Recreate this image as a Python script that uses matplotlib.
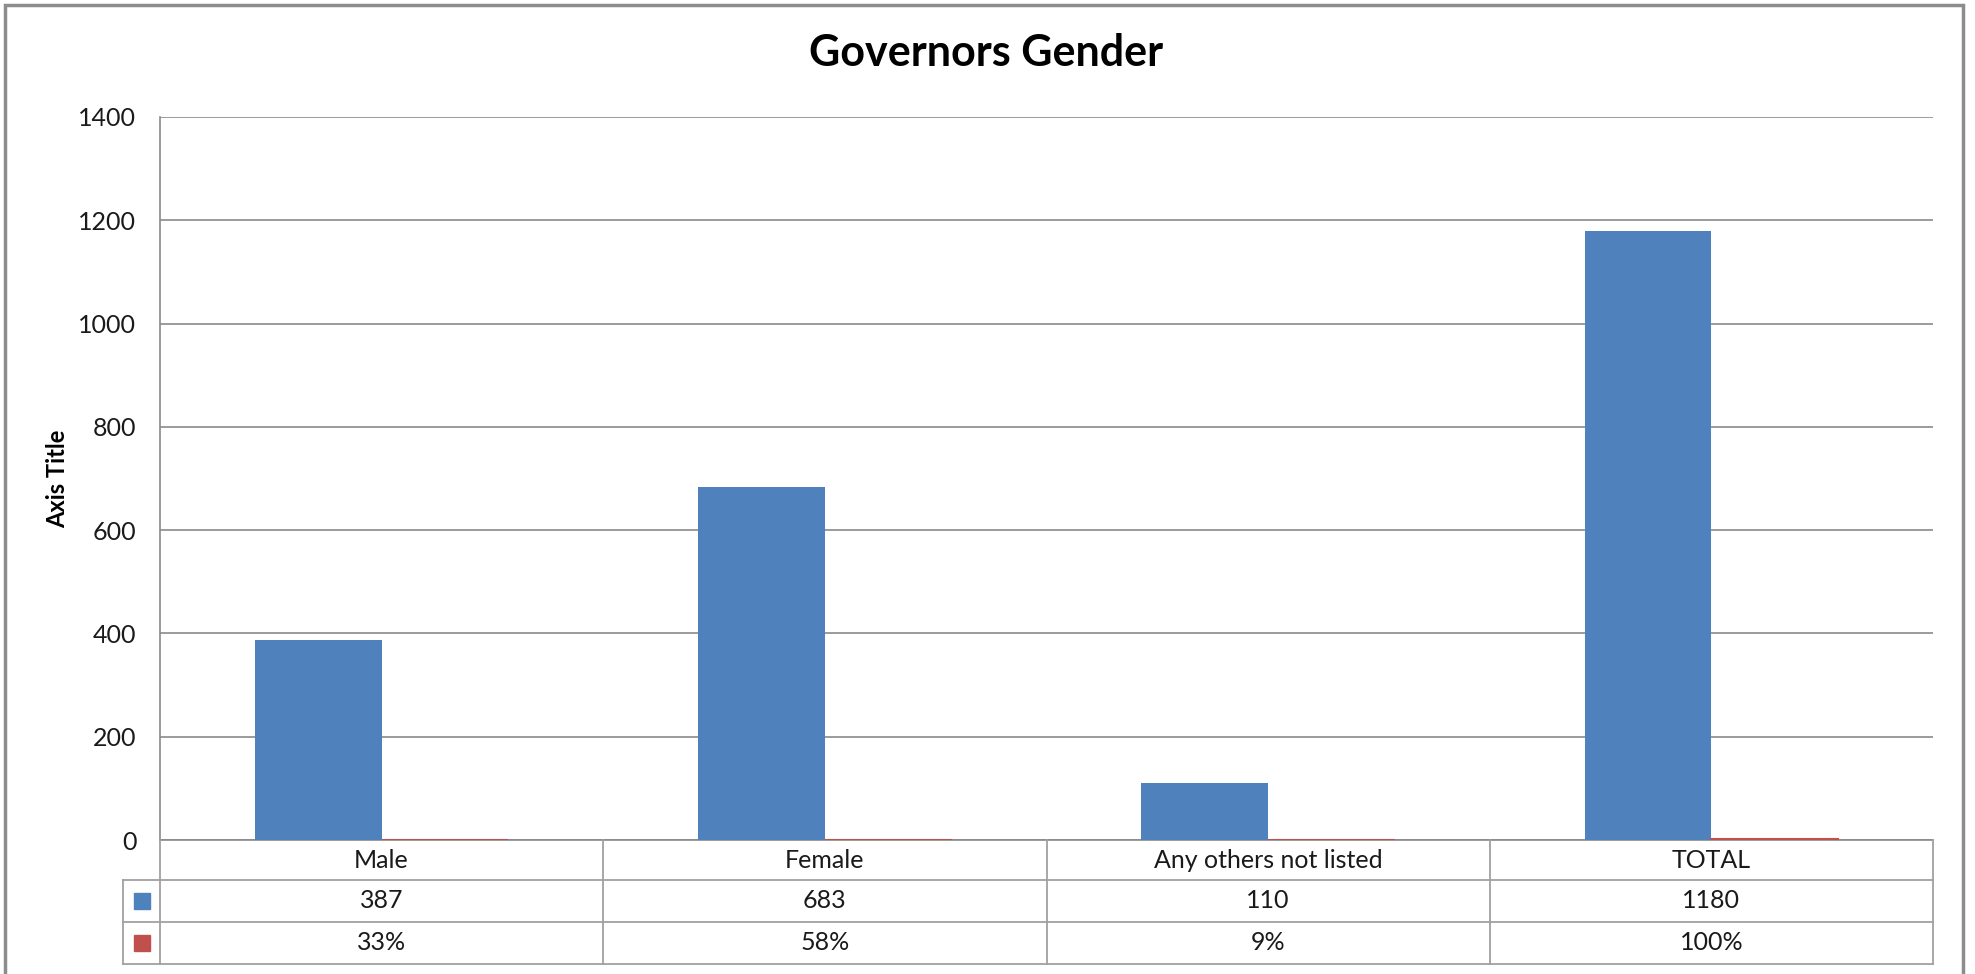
import matplotlib
matplotlib.use("Agg")
import matplotlib.pyplot as plt
import matplotlib.transforms as mtransforms
from matplotlib.patches import Rectangle
from matplotlib.lines import Line2D
import numpy as np

# Chart data
categories = ["Male", "Female", "Any others not listed", "TOTAL"]
counts = [387, 683, 110, 1180]
shares = [0.33, 0.58, 0.09, 1.00]
share_labels = ["33%", "58%", "9%", "100%"]
count_labels = ["387", "683", "110", "1180"]
y_ticks = [0, 200, 400, 600, 800, 1000, 1200, 1400]

title = "Governors Gender"
y_title = "Axis Title"

BLUE = "#4F81BD"
RED = "#C0504D"
GRID = "#8a8a8a"
TABLE_LINE = "#a0a0a0"
FRAME = "#8c8c8c"
TXT = "#1a1a1a"

plt.rcParams["font.family"] = ["Lato", "DejaVu Sans"]

W, H = 1975, 974
fig = plt.figure(figsize=(W / 100, H / 100), dpi=100)

# plot area in pixels
left_px, right_px, top_px, bottom_px = 160, 1933, 117, 840
ax = fig.add_axes([left_px / W, 1 - bottom_px / H,
                   (right_px - left_px) / W, (bottom_px - top_px) / H])

x = np.arange(len(categories))
bw = 1 / 3.5
ax.bar(x - bw / 2, counts, width=bw, color=BLUE, edgecolor="none", zorder=3)
ax.bar(x + bw / 2, shares, width=bw, color=RED, edgecolor=RED, linewidth=1.5, zorder=3)

ax.set_xlim(-0.5, len(categories) - 0.5)
ax.set_ylim(0, 1400)
ax.set_yticks(y_ticks)
ax.set_yticklabels([str(t) for t in y_ticks], fontsize=18, color=TXT)
ax.tick_params(axis="y", length=0, pad=17)
ax.set_xticks([])
ax.yaxis.grid(True, color=GRID, linewidth=1.2, zorder=0)
ax.set_axisbelow(True)
for side in ["top", "right"]:
    ax.spines[side].set_visible(False)
ax.spines["left"].set_color(GRID)
ax.spines["left"].set_linewidth(1.2)
ax.spines["bottom"].set_color(GRID)
ax.spines["bottom"].set_linewidth(1.2)

def fy(px):
    return 1 - px / H

# y axis title
fig.text(58 / W, fy((top_px + bottom_px) / 2), y_title, rotation=90, ha="center",
         va="center", fontsize=17, fontweight="bold", color="black")

# data table under the axis
tr = mtransforms.blended_transform_factory(ax.transData, fig.transFigure)

row_edges = [840, 880, 922, 964]
legend_left_px = 123
x_lo, x_hi = -0.5, len(categories) - 0.5

for ypx in row_edges[1:]:
    fig.add_artist(Line2D([legend_left_px / W, right_px / W], [fy(ypx)] * 2,
                          transform=fig.transFigure, color=TABLE_LINE, linewidth=1.3))

for xb in np.arange(x_lo, x_hi + 0.01, 1.0):
    fig.add_artist(Line2D([xb, xb], [fy(row_edges[0]), fy(row_edges[-1])], transform=tr,
                          color=TABLE_LINE, linewidth=1.3))
fig.add_artist(Line2D([legend_left_px / W] * 2, [fy(row_edges[1]), fy(row_edges[-1])],
                      transform=fig.transFigure, color=TABLE_LINE, linewidth=1.3))

rows = [categories, count_labels, share_labels]
for r, labels in enumerate(rows):
    yc = fy((row_edges[r] + row_edges[r + 1]) / 2)
    for i, lab in enumerate(labels):
        fig.text(x[i], yc, lab, transform=tr, ha="center", va="center",
                 fontsize=18, color=TXT)

# legend keys in the table
for r, col in [(1, BLUE), (2, RED)]:
    yc = (row_edges[r] + row_edges[r + 1]) / 2
    fig.add_artist(Line2D([(legend_left_px + 18.5) / W], [fy(yc)], transform=fig.transFigure,
                          marker="s", markersize=11, color=col, linestyle="none"))

# title
fig.text(986 / W, fy(53), title, ha="center", va="center", fontsize=31,
         fontweight="bold", color="black")

# chart frame
fig.add_artist(Rectangle((5 / W, -0.05), (1963 - 5) / W, fy(5) + 0.05,
                         transform=fig.transFigure, fill=False,
                         edgecolor=FRAME, linewidth=2.5))

fig.savefig("out.png", dpi=100)
